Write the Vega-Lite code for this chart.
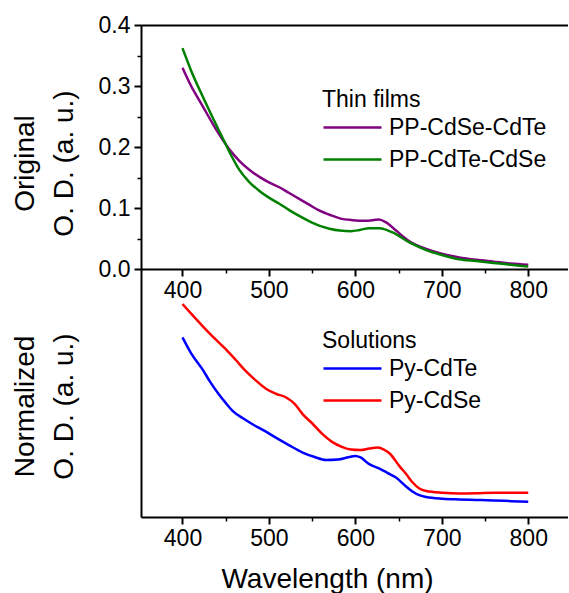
{
  "$schema": "https://vega.github.io/schema/vega-lite/v6.json",
  "padding": {"left": 11, "top": 14, "right": 0, "bottom": 0},
  "bounds": "flush",
  "spacing": 0,
  "config": {
    "font": "Liberation Sans",
    "view": {"stroke": null},
    "axis": {
      "domainColor": "black", "domainWidth": 2, "tickColor": "black", "tickWidth": 2,
      "labelColor": "black", "titleColor": "black", "labelFontSize": 23, "titleFontSize": 28,
      "titleFontWeight": "normal", "grid": false, "labelFont": "Liberation Sans", "titleFont": "Liberation Sans"
    },
    "legend": {
      "orient": "none", "symbolType": "M-1,0H4.8", "symbolSize": 400, "symbolStrokeWidth": 2.5,
      "labelFontSize": 23, "titleFontSize": 23, "titleFontWeight": "normal", "labelOffset": 44,
      "rowPadding": 8, "titlePadding": 4, "padding": 0, "labelColor": "black", "titleColor": "black",
      "labelLimit": 400, "labelFont": "Liberation Sans", "titleFont": "Liberation Sans"
    }
  },
  "datasets": {
    "films": [
      {"sample": "PP-CdSe-CdTe", "wavelength": 400, "od": 0.330},
      {"sample": "PP-CdSe-CdTe", "wavelength": 410, "od": 0.300},
      {"sample": "PP-CdSe-CdTe", "wavelength": 423, "od": 0.268},
      {"sample": "PP-CdSe-CdTe", "wavelength": 435, "od": 0.238},
      {"sample": "PP-CdSe-CdTe", "wavelength": 446, "od": 0.213},
      {"sample": "PP-CdSe-CdTe", "wavelength": 456, "od": 0.193},
      {"sample": "PP-CdSe-CdTe", "wavelength": 466, "od": 0.177},
      {"sample": "PP-CdSe-CdTe", "wavelength": 478, "od": 0.162},
      {"sample": "PP-CdSe-CdTe", "wavelength": 489, "od": 0.151},
      {"sample": "PP-CdSe-CdTe", "wavelength": 500, "od": 0.142},
      {"sample": "PP-CdSe-CdTe", "wavelength": 512, "od": 0.134},
      {"sample": "PP-CdSe-CdTe", "wavelength": 523, "od": 0.125},
      {"sample": "PP-CdSe-CdTe", "wavelength": 535, "od": 0.115},
      {"sample": "PP-CdSe-CdTe", "wavelength": 547, "od": 0.105},
      {"sample": "PP-CdSe-CdTe", "wavelength": 558, "od": 0.096},
      {"sample": "PP-CdSe-CdTe", "wavelength": 570, "od": 0.089},
      {"sample": "PP-CdSe-CdTe", "wavelength": 582, "od": 0.083},
      {"sample": "PP-CdSe-CdTe", "wavelength": 597, "od": 0.080},
      {"sample": "PP-CdSe-CdTe", "wavelength": 612, "od": 0.079},
      {"sample": "PP-CdSe-CdTe", "wavelength": 627, "od": 0.081},
      {"sample": "PP-CdSe-CdTe", "wavelength": 635, "od": 0.077},
      {"sample": "PP-CdSe-CdTe", "wavelength": 647, "od": 0.063},
      {"sample": "PP-CdSe-CdTe", "wavelength": 662, "od": 0.046},
      {"sample": "PP-CdSe-CdTe", "wavelength": 682, "od": 0.033},
      {"sample": "PP-CdSe-CdTe", "wavelength": 700, "od": 0.025},
      {"sample": "PP-CdSe-CdTe", "wavelength": 720, "od": 0.019},
      {"sample": "PP-CdSe-CdTe", "wavelength": 740, "od": 0.015},
      {"sample": "PP-CdSe-CdTe", "wavelength": 760, "od": 0.012},
      {"sample": "PP-CdSe-CdTe", "wavelength": 780, "od": 0.009},
      {"sample": "PP-CdSe-CdTe", "wavelength": 800, "od": 0.007},
      {"sample": "PP-CdTe-CdSe", "wavelength": 400, "od": 0.362},
      {"sample": "PP-CdTe-CdSe", "wavelength": 410, "od": 0.325},
      {"sample": "PP-CdTe-CdSe", "wavelength": 423, "od": 0.284},
      {"sample": "PP-CdTe-CdSe", "wavelength": 435, "od": 0.248},
      {"sample": "PP-CdTe-CdSe", "wavelength": 446, "od": 0.216},
      {"sample": "PP-CdTe-CdSe", "wavelength": 455, "od": 0.190},
      {"sample": "PP-CdTe-CdSe", "wavelength": 466, "od": 0.162},
      {"sample": "PP-CdTe-CdSe", "wavelength": 477, "od": 0.143},
      {"sample": "PP-CdTe-CdSe", "wavelength": 489, "od": 0.128},
      {"sample": "PP-CdTe-CdSe", "wavelength": 500, "od": 0.117},
      {"sample": "PP-CdTe-CdSe", "wavelength": 512, "od": 0.107},
      {"sample": "PP-CdTe-CdSe", "wavelength": 523, "od": 0.097},
      {"sample": "PP-CdTe-CdSe", "wavelength": 535, "od": 0.087},
      {"sample": "PP-CdTe-CdSe", "wavelength": 547, "od": 0.078},
      {"sample": "PP-CdTe-CdSe", "wavelength": 558, "od": 0.071},
      {"sample": "PP-CdTe-CdSe", "wavelength": 570, "od": 0.066},
      {"sample": "PP-CdTe-CdSe", "wavelength": 582, "od": 0.063},
      {"sample": "PP-CdTe-CdSe", "wavelength": 595, "od": 0.062},
      {"sample": "PP-CdTe-CdSe", "wavelength": 605, "od": 0.064},
      {"sample": "PP-CdTe-CdSe", "wavelength": 616, "od": 0.067},
      {"sample": "PP-CdTe-CdSe", "wavelength": 628, "od": 0.067},
      {"sample": "PP-CdTe-CdSe", "wavelength": 643, "od": 0.060},
      {"sample": "PP-CdTe-CdSe", "wavelength": 662, "od": 0.044},
      {"sample": "PP-CdTe-CdSe", "wavelength": 682, "od": 0.031},
      {"sample": "PP-CdTe-CdSe", "wavelength": 700, "od": 0.023},
      {"sample": "PP-CdTe-CdSe", "wavelength": 720, "od": 0.016},
      {"sample": "PP-CdTe-CdSe", "wavelength": 740, "od": 0.013},
      {"sample": "PP-CdTe-CdSe", "wavelength": 760, "od": 0.010},
      {"sample": "PP-CdTe-CdSe", "wavelength": 780, "od": 0.007},
      {"sample": "PP-CdTe-CdSe", "wavelength": 800, "od": 0.004}
    ],
    "solutions": [
      {"sample": "Py-CdTe", "wavelength": 400, "od": 0.724},
      {"sample": "Py-CdTe", "wavelength": 410, "od": 0.660},
      {"sample": "Py-CdTe", "wavelength": 423, "od": 0.596},
      {"sample": "Py-CdTe", "wavelength": 432, "od": 0.545},
      {"sample": "Py-CdTe", "wavelength": 442, "od": 0.495},
      {"sample": "Py-CdTe", "wavelength": 450, "od": 0.460},
      {"sample": "Py-CdTe", "wavelength": 458, "od": 0.428},
      {"sample": "Py-CdTe", "wavelength": 470, "od": 0.398},
      {"sample": "Py-CdTe", "wavelength": 481, "od": 0.374},
      {"sample": "Py-CdTe", "wavelength": 495, "od": 0.347},
      {"sample": "Py-CdTe", "wavelength": 508, "od": 0.320},
      {"sample": "Py-CdTe", "wavelength": 523, "od": 0.290},
      {"sample": "Py-CdTe", "wavelength": 539, "od": 0.260},
      {"sample": "Py-CdTe", "wavelength": 553, "od": 0.242},
      {"sample": "Py-CdTe", "wavelength": 566, "od": 0.230},
      {"sample": "Py-CdTe", "wavelength": 580, "od": 0.232},
      {"sample": "Py-CdTe", "wavelength": 592, "od": 0.241},
      {"sample": "Py-CdTe", "wavelength": 600, "od": 0.246},
      {"sample": "Py-CdTe", "wavelength": 606, "od": 0.240},
      {"sample": "Py-CdTe", "wavelength": 616, "od": 0.213},
      {"sample": "Py-CdTe", "wavelength": 628, "od": 0.195},
      {"sample": "Py-CdTe", "wavelength": 637, "od": 0.178},
      {"sample": "Py-CdTe", "wavelength": 647, "od": 0.159},
      {"sample": "Py-CdTe", "wavelength": 658, "od": 0.125},
      {"sample": "Py-CdTe", "wavelength": 666, "od": 0.103},
      {"sample": "Py-CdTe", "wavelength": 674, "od": 0.088},
      {"sample": "Py-CdTe", "wavelength": 682, "od": 0.081},
      {"sample": "Py-CdTe", "wavelength": 701, "od": 0.074},
      {"sample": "Py-CdTe", "wavelength": 720, "od": 0.071},
      {"sample": "Py-CdTe", "wavelength": 740, "od": 0.069},
      {"sample": "Py-CdTe", "wavelength": 760, "od": 0.067},
      {"sample": "Py-CdTe", "wavelength": 780, "od": 0.064},
      {"sample": "Py-CdTe", "wavelength": 800, "od": 0.061},
      {"sample": "Py-CdSe", "wavelength": 400, "od": 0.859},
      {"sample": "Py-CdSe", "wavelength": 410, "od": 0.820},
      {"sample": "Py-CdSe", "wavelength": 423, "od": 0.771},
      {"sample": "Py-CdSe", "wavelength": 436, "od": 0.724},
      {"sample": "Py-CdSe", "wavelength": 450, "od": 0.677},
      {"sample": "Py-CdSe", "wavelength": 462, "od": 0.632},
      {"sample": "Py-CdSe", "wavelength": 473, "od": 0.589},
      {"sample": "Py-CdSe", "wavelength": 485, "od": 0.550},
      {"sample": "Py-CdSe", "wavelength": 497, "od": 0.516},
      {"sample": "Py-CdSe", "wavelength": 508, "od": 0.497},
      {"sample": "Py-CdSe", "wavelength": 520, "od": 0.482},
      {"sample": "Py-CdSe", "wavelength": 530, "od": 0.455},
      {"sample": "Py-CdSe", "wavelength": 539, "od": 0.415},
      {"sample": "Py-CdSe", "wavelength": 550, "od": 0.378},
      {"sample": "Py-CdSe", "wavelength": 562, "od": 0.334},
      {"sample": "Py-CdSe", "wavelength": 573, "od": 0.303},
      {"sample": "Py-CdSe", "wavelength": 585, "od": 0.282},
      {"sample": "Py-CdSe", "wavelength": 595, "od": 0.272},
      {"sample": "Py-CdSe", "wavelength": 606, "od": 0.270},
      {"sample": "Py-CdSe", "wavelength": 616, "od": 0.276},
      {"sample": "Py-CdSe", "wavelength": 626, "od": 0.280},
      {"sample": "Py-CdSe", "wavelength": 633, "od": 0.272},
      {"sample": "Py-CdSe", "wavelength": 640, "od": 0.255},
      {"sample": "Py-CdSe", "wavelength": 651, "od": 0.205},
      {"sample": "Py-CdSe", "wavelength": 659, "od": 0.172},
      {"sample": "Py-CdSe", "wavelength": 666, "od": 0.140},
      {"sample": "Py-CdSe", "wavelength": 674, "od": 0.115},
      {"sample": "Py-CdSe", "wavelength": 682, "od": 0.105},
      {"sample": "Py-CdSe", "wavelength": 701, "od": 0.098},
      {"sample": "Py-CdSe", "wavelength": 720, "od": 0.095},
      {"sample": "Py-CdSe", "wavelength": 740, "od": 0.096},
      {"sample": "Py-CdSe", "wavelength": 760, "od": 0.098},
      {"sample": "Py-CdSe", "wavelength": 780, "od": 0.098},
      {"sample": "Py-CdSe", "wavelength": 800, "od": 0.098}
    ]
  },
  "resolve": {"scale": {"color": "independent"}},
  "vconcat": [
    {
      "width": 427,
      "height": 244,
      "data": {"name": "films"},
      "resolve": {"axis": {"x": "independent", "y": "independent"}},
      "layer": [
        {
          "mark": {"type": "line", "strokeWidth": 2.5, "interpolate": "monotone"},
          "encoding": {
            "x": {"field": "wavelength", "type": "quantitative",
              "scale": {"domain": [352, 846], "nice": false, "zero": false},
              "axis": {"orient": "bottom", "values": [400, 500, 600, 700, 800], "tickSize": 7, "labelPadding": 3, "title": null}},
            "y": {"field": "od", "type": "quantitative",
              "scale": {"domain": [0, 0.4], "nice": false},
              "axis": {"orient": "left", "values": [0, 0.1, 0.2, 0.3, 0.4], "format": ".1f", "tickSize": 7, "labelPadding": 4,
                "title": ["Original", "O. D. (a. u.)"], "titleX": -108, "titleY": 138, "titleBaseline": "alphabetic",
                "titleLineHeight": 39, "titleAngle": 270, "titleAlign": "center"}},
            "color": {"field": "sample", "type": "nominal",
              "scale": {"domain": ["PP-CdSe-CdTe", "PP-CdTe-CdSe"], "range": ["#800080", "#008000"]},
              "legend": {"title": "Thin films", "legendX": 181, "legendY": 64}}
          }
        },
        {
          "mark": {"type": "line", "opacity": 0},
          "encoding": {
            "x": {"field": "wavelength", "type": "quantitative",
              "scale": {"domain": [352, 846], "nice": false, "zero": false},
              "axis": {"orient": "bottom", "values": [450, 550, 650, 750], "tickSize": 4, "tickWidth": 1.5, "labels": false, "domain": false, "title": null}},
            "y": {"field": "od", "type": "quantitative",
              "scale": {"domain": [0, 0.4], "nice": false},
              "axis": {"orient": "left", "values": [0.05, 0.15, 0.25, 0.35], "tickSize": 4, "tickWidth": 1.5, "labels": false, "domain": false, "title": null}}
          }
        },
        {
          "mark": {"type": "line", "opacity": 0},
          "encoding": {
            "x": {"field": "wavelength", "type": "quantitative",
              "scale": {"domain": [352, 846], "nice": false, "zero": false},
              "axis": {"orient": "top", "ticks": false, "labels": false, "domain": true, "title": null}},
            "y": {"field": "od", "type": "quantitative",
              "scale": {"domain": [0, 0.4], "nice": false}, "axis": null}
          }
        }
      ]
    },
    {
      "width": 427,
      "height": 248,
      "data": {"name": "solutions"},
      "resolve": {"axis": {"x": "independent", "y": "independent"}},
      "layer": [
        {
          "mark": {"type": "line", "strokeWidth": 2.5, "interpolate": "monotone"},
          "encoding": {
            "x": {"field": "wavelength", "type": "quantitative",
              "scale": {"domain": [352, 846], "nice": false, "zero": false},
              "axis": {"orient": "bottom", "values": [400, 500, 600, 700, 800], "tickSize": 7, "labelPadding": 3,
                "title": "Wavelength (nm)", "titleX": 186, "titleY": 70, "titleBaseline": "alphabetic", "titleAnchor": null}},
            "y": {"field": "od", "type": "quantitative",
              "scale": {"domain": [0, 1], "nice": false},
              "axis": {"orient": "left", "ticks": false, "labels": false,
                "title": ["Normalized", "O. D. (a. u.)"], "titleX": -108, "titleY": 137, "titleBaseline": "alphabetic",
                "titleLineHeight": 39, "titleAngle": 270, "titleAlign": "center"}},
            "color": {"field": "sample", "type": "nominal",
              "scale": {"domain": ["Py-CdTe", "Py-CdSe"], "range": ["#0000FF", "#FF0000"]},
              "legend": {"title": "Solutions", "legendX": 181, "legendY": 61}}
          }
        },
        {
          "mark": {"type": "line", "opacity": 0},
          "encoding": {
            "x": {"field": "wavelength", "type": "quantitative",
              "scale": {"domain": [352, 846], "nice": false, "zero": false},
              "axis": {"orient": "bottom", "values": [450, 550, 650, 750], "tickSize": 4, "tickWidth": 1.5, "labels": false, "domain": false, "title": null}},
            "y": {"field": "od", "type": "quantitative",
              "scale": {"domain": [0, 1], "nice": false}, "axis": null}
          }
        }
      ]
    }
  ]
}
